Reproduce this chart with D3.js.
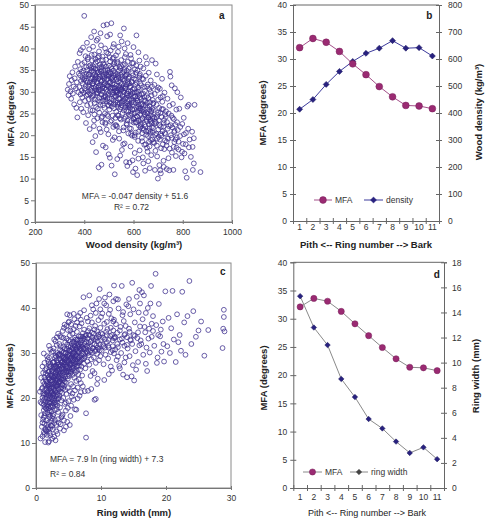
<!DOCTYPE html>
<html><head><meta charset="utf-8">
<script src="https://cdn.jsdelivr.net/npm/d3@7"></script>
<style>body{margin:0;background:#fff}svg{display:block}</style>
</head><body><svg id="c" width="485" height="525"></svg>
<script>
// ---------- DATA ----------
const ringNumbers = [1,2,3,4,5,6,7,8,9,10,11];
const mfaByRingB = [32.1,33.8,33.1,31.4,29.1,27.1,24.9,23.0,21.4,21.3,20.8];
const densityByRing = [414,450,506,554,591,621,640,668,640,642,611];
const mfaByRingD = [32.1,33.6,33.1,31.3,29.1,27.0,24.9,22.9,21.4,21.3,20.8];
const ringWidthByRing = [15.3,12.8,11.4,8.7,7.25,5.5,4.75,3.7,2.8,3.24,2.3];

const ticksMfaA = [0,5,10,15,20,25,30,35,40,45,50];
const ticksDensityA = [200,400,600,800,1000];
const ticksMfaC = [0,10,20,30,40,50];
const ticksRingWidthC = [0,10,20,30];
const ticksMfaBD = [0,5,10,15,20,25,30,35,40];
const ticksDensityB = [0,100,200,300,400,500,600,700,800];
const ticksRingWidthD = [0,2,4,6,8,10,12,14,16,18];

// panel a: [wood density, MFA]
const scatterA = [
[333,30.5],[336,29.2],[338,31.8],[341,33.6],[344,30.1],[347,28.4],[349,32.7],[352,34.5],[354,29.6],[357,31.2],[359,27.1],[361,33.1],[363,35.8],[366,30.8],[368,26.3],[370,32.2],[372,24.1],[374,36.9],[376,29.9],[378,34.2],
[380,31.1],[381,38.9],[382,27.6],[383,33.8],[384,35.2],[385,29.4],[386,39.6],[387,32.5],[388,26.1],[389,34.6],[390,30.3],[391,36.4],[392,28.7],[393,33.2],[394,31.9],[395,40.2],[396,25.3],[397,34.9],[398,29.8],[399,32.8],[400,47.5],[401,36.8],[402,30.7],[403,27.9],[404,33.5],[405,38.2],[406,31.4],[407,22.8],[408,35.7],[409,29.1],[410,34.1],[411,41.3],[412,26.9],[413,32.1],[414,37.5],[415,30.0],[416,24.6],[417,33.9],[418,28.3],[419,35.9],[420,39.8],[421,31.6],[422,21.4],[423,34.4],[424,29.5],[425,36.1],[426,27.2],[427,33.0],[428,42.6],[429,30.9],
[430,34.8],[431,28.6],[432,37.2],[433,31.8],[434,25.7],[435,33.3],[436,40.4],[437,29.2],[438,35.4],[439,22.1],[440,32.4],[441,38.6],[442,27.4],[443,34.0],[444,30.6],[445,19.8],[446,36.7],[447,31.2],[448,26.5],[449,33.7],[450,41.8],[451,29.9],[452,35.1],[453,23.9],[454,32.0],[455,37.9],[456,28.1],[457,34.5],[458,12.6],[459,30.4],[460,39.3],[461,25.2],[462,33.5],[463,36.3],[464,27.7],[465,31.5],[466,43.5],[467,20.7],[468,34.7],[469,29.3],[470,13.2],[471,35.8],[472,32.6],[473,24.3],[474,38.1],[475,30.1],[476,26.9],[477,33.9],[478,45.3],[479,28.8],[432,30.2],[436,35.9],[441,24.8],[445,33.1],[449,29.6],[453,37.0],[457,31.0],[461,35.6],[465,27.0],[469,32.3],[473,30.8],[477,36.5],[434,18.4],[448,16.1],[462,21.5],[476,17.6],[440,43.9],[455,42.2],[468,40.7],[474,23.0],
[480,31.7],[481,36.2],[482,26.3],[483,33.4],[484,29.0],[485,40.0],[486,22.6],[487,34.3],[488,30.5],[489,37.4],[490,27.8],[491,32.9],[492,45.5],[493,24.7],[494,35.0],[495,28.5],[496,31.3],[497,38.8],[498,20.2],[499,33.6],[500,29.7],[501,36.0],[502,25.9],[503,32.1],[504,14.8],[505,34.6],[506,30.0],[507,39.5],[508,27.3],[509,33.0],[510,45.8],[511,23.4],[512,35.3],[513,29.4],[514,31.9],[515,37.6],[516,18.9],[517,32.6],[518,28.0],[519,34.9],[520,41.0],[521,26.2],[522,31.0],[523,36.8],[524,11.0],[525,29.1],[526,33.8],[527,24.0],[528,35.5],[529,30.3],[482,33.0],[485,28.2],[488,35.8],[491,21.3],[494,31.6],[497,27.0],[500,34.0],[503,38.0],[506,23.1],[509,30.9],[512,26.6],[515,33.3],[518,21.9],[521,36.4],[524,30.7],[527,27.6],[530,32.8],[487,17.2],[499,15.6],[511,13.0],[523,19.5],[493,42.8],[505,43.2],[517,40.3],[529,38.4],[484,25.0],[496,24.4],[508,34.2],[520,28.8],[526,22.3],
[530,25.4],[531,31.4],[532,36.6],[533,22.0],[534,29.8],[535,34.1],[536,27.1],[537,39.2],[538,30.6],[539,24.5],[540,33.2],[541,28.4],[542,19.2],[543,35.7],[544,31.0],[545,26.0],[546,43.0],[547,29.5],[548,33.9],[549,23.6],[550,37.3],[551,27.5],[552,31.8],[553,16.6],[554,34.4],[555,29.0],[556,25.1],[557,36.2],[558,30.2],[559,21.1],[560,32.5],[561,44.6],[562,27.9],[563,35.0],[564,18.1],[565,30.8],[566,26.4],[567,33.6],[568,24.2],[569,38.7],[570,28.6],[571,31.6],[572,22.7],[573,34.8],[574,29.2],[575,12.9],[576,36.9],[577,26.8],[578,32.3],[579,20.4],[532,29.9],[535,24.6],[538,33.6],[541,20.9],[544,27.3],[547,35.4],[550,30.4],[553,26.9],[556,32.9],[559,28.3],[562,23.8],[565,36.4],[568,31.2],[571,25.6],[574,34.0],[577,29.6],[580,27.0],[534,14.5],[546,15.3],[558,17.9],[570,13.8],[540,40.4],[552,41.6],[564,40.0],[576,41.2],[537,26.5],[549,30.7],[561,34.6],[573,22.4],[579,33.1],
[580,30.1],[581,24.7],[582,33.5],[583,28.2],[584,21.6],[585,35.6],[586,26.3],[587,31.3],[588,17.4],[589,29.4],[590,37.7],[591,23.3],[592,32.4],[593,27.6],[594,19.9],[595,34.3],[596,25.8],[597,30.5],[598,11.5],[599,28.9],[600,40.3],[601,22.9],[602,33.0],[603,26.0],[604,29.9],[605,15.9],[606,35.2],[607,24.1],[608,31.6],[609,20.6],[610,27.4],[611,36.1],[612,23.0],[613,32.1],[614,28.5],[615,10.8],[616,34.9],[617,25.3],[618,30.0],[619,18.7],[620,39.1],[621,27.0],[622,22.2],[623,33.3],[624,29.3],[625,16.5],[626,25.7],[627,31.9],[628,21.8],[629,35.8],[582,26.7],[586,31.0],[590,20.3],[594,28.0],[598,33.8],[602,23.7],[606,29.0],[610,32.8],[614,24.4],[618,26.6],[622,30.4],[626,34.1],[630,23.5],[584,13.7],[596,14.2],[608,12.3],[620,14.6],[588,38.5],[600,36.6],[612,43.0],[624,37.2],[592,25.0],[604,20.0],[616,28.0],[628,26.2],
[630,28.3],[631,22.5],[632,31.5],[633,25.6],[634,19.4],[635,33.0],[636,27.2],[637,23.9],[638,14.9],[639,29.6],[640,35.4],[641,21.2],[642,26.8],[643,31.1],[644,17.8],[645,24.9],[646,30.2],[647,11.8],[648,27.9],[649,22.0],[650,33.7],[651,25.2],[652,20.1],[653,29.0],[654,36.5],[655,23.2],[656,26.4],[657,16.2],[658,31.7],[659,24.0],[660,28.6],[661,21.0],[662,34.4],[663,18.5],[664,25.9],[665,30.6],[666,12.4],[667,23.6],[668,27.6],[669,20.8],[670,32.6],[671,25.4],[672,15.4],[673,29.2],[674,22.8],[675,37.3],[676,26.1],[677,19.0],[678,28.1],[679,24.3],[635,20.5],[645,28.8],[655,17.1],[665,21.6],[675,31.2],[640,13.5],[660,14.0],[650,38.0],[670,24.6],[680,27.3],
[680,21.7],[682,25.8],[684,18.2],[686,29.5],[688,23.1],[690,36.5],[692,20.4],[694,27.0],[696,15.1],[698,24.7],[700,31.0],[702,19.6],[704,26.3],[706,22.3],[708,11.9],[710,28.7],[712,17.0],[714,24.2],[716,33.0],[718,20.9],[720,26.0],[722,14.1],[724,23.5],[726,29.8],[728,18.8],[681,27.4],[685,22.6],[689,16.4],[693,24.1],[697,30.4],[701,21.3],[705,13.1],[709,25.1],[713,19.9],[717,27.7],[721,22.0],[725,16.8],[729,24.8],[687,12.0],[699,10.0],[711,11.2],[723,12.7],[695,34.0],[707,30.7],[719,29.0],
[730,20.3],[732,25.5],[734,17.6],[736,23.0],[738,28.4],[740,19.2],[742,14.7],[744,22.1],[746,26.8],[748,34.6],[750,33.5],[752,20.0],[754,24.5],[756,16.0],[758,21.8],[760,27.2],[762,12.0],[764,23.7],[766,18.4],[768,30.8],[770,22.4],[772,15.2],[774,25.9],[776,19.5],[778,29.9],[735,12.2],[745,11.9],[755,31.5],[765,20.7],[775,17.1],
[780,21.2],[783,16.7],[786,26.1],[789,19.8],[792,28.7],[795,14.9],[798,22.6],[801,18.0],[804,24.0],[807,15.8],[810,11.7],[813,20.5],[816,10.2],[819,26.6],[822,21.5],[825,17.2],[828,19.0],[824,27.0],
[833,15.0],[838,20.8],[841,12.0],[845,19.3],[848,27.0],[872,11.5],[845,13.5],[840,17.3]
];
// panel a, dense core of the cloud: [wood density, MFA]
const scatterACore = [
[402,33.1],[405,30.2],[408,32.6],[411,35.0],[414,29.4],[417,31.3],[420,34.0],[423,32.2],[426,30.4],[429,35.6],
[431,33.0],[433,29.0],[435,31.9],[437,34.6],[439,30.9],[441,32.8],[443,28.2],[445,35.3],[447,33.4],[449,30.3],
[451,32.3],[453,34.4],[455,29.7],[457,33.0],[459,31.4],[461,28.6],[463,34.0],[465,32.7],[467,30.6],[469,35.2],
[471,29.4],[473,33.5],[475,31.2],[477,27.9],[479,34.8],[481,30.8],[483,32.0],[485,35.0],[487,28.8],[489,31.5],
[491,33.8],[493,30.0],[495,32.9],[497,29.3],[499,34.4],[501,31.2],[503,27.6],[505,32.3],[507,30.7],[509,35.7],
[511,28.4],[513,33.2],[515,31.0],[517,29.8],[519,33.7],[521,27.2],[523,31.7],[525,34.3],[527,30.1],[529,28.9],
[531,33.0],[533,30.2],[535,27.5],[537,32.4],[539,29.3],[541,34.9],[543,31.4],[545,28.6],[547,32.1],[549,26.4],
[551,30.5],[553,33.4],[555,27.8],[557,31.0],[559,29.9],[561,25.7],[563,32.9],[565,28.4],[567,30.8],[569,26.9],
[571,33.9],[573,29.6],[575,27.3],[577,31.8],[579,25.4],[581,29.0],[583,31.9],[585,27.0],[587,24.6],[589,30.1],
[591,28.3],[593,32.2],[595,26.0],[597,29.7],[599,23.8],[601,27.6],[603,30.8],[605,25.1],[607,28.9],[609,22.9],
[611,26.5],[613,29.8],[615,24.3],[617,27.9],[619,31.0],[621,23.4],[623,26.2],[625,28.7],[627,24.9],[629,22.1],
[631,27.0],[633,29.4],[635,23.7],[637,26.0],[639,21.6],[641,25.3],[643,28.0],[645,22.4],[647,24.7],[649,26.9],
[651,20.9],[653,23.6],[655,27.5],[657,25.0],[659,19.8],[661,24.1],[663,22.5],[665,26.7],[667,20.3],[669,23.2],
[671,18.9],[673,25.6],[675,21.9],[677,23.9],[679,20.6],[684,24.0],[688,20.1],[692,22.8],[696,19.2],[700,25.2],
[425,25.8],[440,23.4],[455,26.1],[470,24.0],[485,22.9],[500,26.8],[515,24.5],[530,22.3],[545,23.9],[560,21.8],[575,23.4],[590,21.5],[605,19.6],[620,20.8],[635,18.6],[650,17.9],[665,17.4],[680,18.4],[695,17.6],[710,20.3],
[415,37.9],[430,38.5],[445,37.5],[460,38.2],[475,37.3],[490,39.1],[505,37.0],[520,37.9],[535,36.9],[550,35.9],[565,38.0],[580,35.3],[595,36.6],[610,34.4],[625,33.7],[640,32.9],[655,31.2],[670,30.0],[685,31.6],[700,28.2],
[703,23.4],[707,19.0],[711,21.9],[715,26.0],[719,17.9],[723,22.8],[727,20.5],[731,24.2],[735,18.5],[739,21.5],[743,25.0],[747,16.9],[751,22.3],[755,19.4],[759,24.0],[763,17.3],[767,21.0],[771,19.0],[777,23.0],[783,18.5],[790,21.9],[797,16.2],[805,20.2],[812,17.9]
];

// panel c: [ring width, MFA]
const scatterC = [
[0.6,21.4],[0.7,11.0],[0.8,16.2],[0.8,24.5],[0.9,18.8],[0.9,13.6],[1.0,22.3],[1.0,27.0],[1.0,11.5],[1.1,19.4],[1.1,15.2],[1.1,25.6],[1.2,20.6],[1.2,17.3],[1.2,12.4],[1.2,29.9],[1.3,23.1],[1.3,18.0],[1.3,14.3],[1.3,21.7],[1.4,26.2],[1.4,19.9],[1.4,16.6],[1.4,10.2],[1.5,22.8],[1.5,12.9],[1.5,24.0],[0.7,19.1],[0.9,22.0],[1.1,23.6],[1.2,15.7],[1.3,27.8],[1.4,13.1],[1.5,17.8],[1.0,20.1],
[1.6,20.7],[1.6,15.0],[1.6,26.6],[1.7,18.4],[1.7,23.3],[1.7,11.8],[1.7,29.3],[1.8,21.5],[1.8,16.8],[1.8,25.1],[1.8,13.4],[1.9,19.6],[1.9,22.9],[1.9,28.0],[1.9,10.1],[2.0,24.2],[2.0,17.7],[2.0,20.9],[2.0,14.6],[2.0,31.6],[2.1,22.1],[2.1,26.9],[2.1,18.9],[2.1,12.2],[2.2,23.8],[2.2,20.3],[2.2,16.1],[2.2,27.6],[2.3,21.0],[2.3,25.4],[2.3,13.9],[2.3,19.1],[2.4,24.9],[2.4,17.0],[2.4,22.5],[2.4,30.2],[2.5,20.0],[2.5,15.5],[2.5,26.2],[2.5,11.0],[1.6,22.0],[1.7,20.2],[1.8,19.0],[1.9,25.8],[2.0,27.3],[2.1,15.8],[2.2,18.2],[2.3,23.0],[2.4,21.4],[2.5,23.6],[1.8,28.6],[2.0,10.4],[2.2,30.8],[2.4,14.9],[2.1,24.4],
[2.6,22.4],[2.6,27.9],[2.6,18.1],[2.6,13.0],[2.7,24.6],[2.7,20.8],[2.7,31.0],[2.7,16.4],[2.8,23.2],[2.8,26.5],[2.8,19.4],[2.8,11.4],[2.9,25.0],[2.9,21.7],[2.9,28.9],[2.9,15.1],[3.0,23.9],[3.0,27.2],[3.0,18.6],[3.0,32.6],[3.1,22.6],[3.1,25.7],[3.1,14.0],[3.1,20.4],[3.2,24.3],[3.2,28.4],[3.2,17.5],[3.2,21.2],[3.3,26.1],[3.3,22.9],[3.3,30.0],[3.3,12.0],[3.4,24.8],[3.4,19.8],[3.4,27.4],[3.4,16.9],[3.5,23.5],[3.5,29.5],[3.5,21.9],[3.5,25.9],[2.6,24.0],[2.8,21.0],[3.0,25.5],[3.2,26.8],[3.4,22.0],[2.7,28.0],[2.9,19.0],[3.1,29.2],[3.3,18.3],[3.5,14.5],[2.8,33.0],[3.0,10.6],[3.2,31.8],[3.4,34.3],[3.1,23.4],
[3.6,25.3],[3.6,28.7],[3.6,20.6],[3.6,32.0],[3.7,23.7],[3.7,27.0],[3.7,17.9],[3.7,30.7],[3.8,25.8],[3.8,22.1],[3.8,29.6],[3.8,14.2],[3.9,26.6],[3.9,24.1],[3.9,33.5],[3.9,19.5],[4.0,27.8],[4.0,23.0],[4.0,30.4],[4.0,21.1],[4.1,25.6],[4.1,28.2],[4.1,16.3],[4.1,34.9],[4.2,26.9],[4.2,24.4],[4.2,31.3],[4.2,20.0],[4.3,27.5],[4.3,22.7],[4.3,29.0],[4.3,12.8],[4.4,25.2],[4.4,30.9],[4.4,18.7],[4.4,36.3],[4.5,28.6],[4.5,24.7],[4.5,26.3],[4.5,21.8],[3.6,26.2],[3.8,27.3],[4.0,25.0],[4.2,28.9],[4.4,27.9],[3.7,33.8],[3.9,15.7],[4.1,22.9],[4.3,35.6],[4.5,32.4],
[4.6,27.0],[4.6,30.1],[4.6,23.4],[4.6,17.2],[4.7,28.4],[4.7,25.9],[4.7,33.2],[4.7,20.9],[4.8,29.2],[4.8,26.6],[4.8,31.9],[4.8,14.7],[4.9,27.7],[4.9,24.3],[4.9,35.1],[4.9,22.2],[5.0,29.9],[5.0,26.0],[5.0,32.8],[5.0,19.3],[5.1,28.0],[5.1,30.6],[5.1,24.9],[5.1,37.0],[5.2,27.3],[5.2,29.4],[5.2,21.5],[5.2,33.9],[5.3,28.8],[5.3,25.5],[5.3,31.4],[5.3,16.0],[5.4,30.3],[5.4,27.6],[5.4,23.1],[5.4,36.4],[5.5,29.0],[5.5,26.4],[5.5,32.1],[5.5,20.3],[4.8,38.6],[5.0,36.8],[5.2,38.4],[5.4,18.3],[4.6,13.6],
[5.6,28.3],[5.6,31.1],[5.6,25.1],[5.6,34.3],[5.7,29.7],[5.7,27.1],[5.7,22.6],[5.7,32.5],[5.8,30.0],[5.8,26.7],[5.8,35.3],[5.8,19.6],[5.9,28.9],[5.9,31.7],[5.9,24.5],[5.9,37.5],[6.0,29.3],[6.0,27.5],[6.0,33.4],[6.0,21.7],[6.1,30.8],[6.1,28.1],[6.1,25.7],[6.1,36.0],[6.2,29.6],[6.2,32.2],[6.2,23.8],[6.2,17.4],[6.3,31.2],[6.3,27.9],[6.3,34.7],[6.3,26.0],[6.4,30.5],[6.4,28.6],[6.4,33.0],[6.4,22.3],[6.5,29.1],[6.5,31.9],[6.5,25.3],[6.5,38.2],
[6.6,30.2],[6.6,33.7],[6.6,27.2],[6.6,24.1],[6.7,31.5],[6.7,29.0],[6.7,35.9],[6.7,20.5],[6.8,32.3],[6.8,28.3],[6.8,26.3],[6.8,38.9],[6.9,30.7],[6.9,33.1],[6.9,23.3],[7.0,31.9],[7.0,29.4],[7.0,36.6],[7.0,27.0],[7.1,32.8],[7.1,30.0],[7.1,25.0],[7.2,34.4],[7.2,31.2],[7.2,28.7],[7.3,42.4],[7.3,33.2],[7.3,29.8],[7.4,30.9],[7.4,27.6],[7.4,35.2],[7.5,32.0],[7.5,29.2],[7.5,21.5],[7.6,33.8],[7.6,31.0],[7.6,26.6],[7.7,11.2],[7.7,16.6],[7.7,32.5],[7.8,30.3],[7.8,37.8],[7.9,31.6],[7.9,28.1],[8.0,34.9],
[8.1,32.2],[8.1,29.5],[8.2,35.5],[8.2,27.4],[8.3,31.4],[8.3,33.9],[8.4,30.6],[8.4,38.3],[8.5,28.6],[8.5,32.7],[8.6,36.8],[8.6,30.1],[8.7,26.0],[8.7,33.4],[8.8,31.1],[8.8,39.7],[8.9,29.0],[8.9,34.3],[9.0,32.0],[9.0,19.6],[9.1,30.4],[9.1,36.0],[9.2,33.1],[9.2,27.8],[9.3,31.7],[9.3,41.0],[9.4,29.8],[9.4,34.8],[9.5,32.6],[9.5,24.3],[9.6,37.3],[9.6,30.9],[9.7,33.6],[9.7,28.4],[9.8,44.2],[9.8,31.9],[9.9,35.6],[9.9,29.3],[10.0,32.9],[10.0,38.0],[8.5,22.0],[9.0,25.5],[9.4,23.1],[8.2,42.8],[9.7,42.0],
[10.1,30.5],[10.2,34.2],[10.3,31.8],[10.4,27.5],[10.5,36.5],[10.6,33.0],[10.7,29.6],[10.8,40.6],[10.9,32.4],[11.0,35.3],[11.1,28.8],[11.2,31.2],[11.3,43.0],[11.4,33.8],[11.5,30.2],[11.6,37.7],[11.7,26.1],[11.8,32.8],[11.9,35.0],[12.0,29.9],[10.2,38.8],[10.5,24.0],[10.8,34.7],[11.1,31.6],[11.4,39.6],[11.7,34.0],[12.0,33.3],[10.4,31.5],[10.9,36.9],[11.5,27.0],[11.9,41.5],[10.6,42.3],[11.2,25.3],[11.8,30.6],[12.0,37.4],
[12.1,33.6],[12.2,30.8],[12.3,36.4],[12.4,28.4],[12.5,34.5],[12.6,31.3],[12.7,39.9],[12.8,27.1],[12.9,33.0],[13.0,35.8],[13.1,30.0],[13.2,44.9],[13.3,32.3],[13.4,25.2],[13.5,37.1],[13.6,31.6],[13.7,34.2],[13.8,29.0],[13.9,40.8],[14.0,33.5],[12.3,42.0],[12.9,26.6],[13.3,38.4],[13.8,36.0],[12.6,29.2],[13.6,27.9],[14.0,24.6],[12.0,45.0],
[14.1,31.0],[14.3,35.4],[14.4,29.3],[14.5,38.6],[14.6,32.8],[14.8,45.6],[14.9,27.3],[15.0,34.0],[15.1,23.9],[15.2,36.8],[15.3,30.4],[15.5,42.5],[15.6,33.3],[15.7,28.0],[15.8,39.0],[15.9,31.7],[16.0,35.9],[14.2,40.4],[14.7,24.8],[15.4,26.3],[15.9,44.0],[14.5,33.0],
[16.2,32.0],[16.4,37.5],[16.5,29.6],[16.6,42.8],[16.8,34.6],[17.0,31.2],[17.1,26.0],[17.2,40.0],[17.4,35.4],[17.5,30.1],[17.7,44.9],[17.8,33.6],[18.0,38.2],[16.9,27.6],[17.6,41.0],[16.3,43.5],
[18.2,31.6],[18.4,47.6],[18.5,36.2],[18.7,29.0],[18.9,40.9],[19.1,33.7],[19.3,30.3],[19.5,37.0],[19.7,28.1],[19.9,43.7],[19.2,35.2],[18.6,27.8],
[20.2,31.5],[20.4,37.8],[20.6,30.0],[20.8,35.5],[21.0,43.8],[21.2,33.0],[21.5,28.0],[21.7,38.6],[21.9,32.4],
[22.1,34.0],[22.3,30.5],[22.5,43.6],[22.8,36.8],[23.0,29.6],[23.3,38.2],[23.6,46.0],[23.9,32.0],
[24.2,39.3],[24.6,33.6],[25.0,35.0],[25.4,37.0],[25.9,29.4],[26.5,35.1],
[28.7,31.1],[28.8,35.4],[28.9,39.6],[28.9,38.0],[29.0,34.8]
];
// panel c, dense core of the cloud: [ring width, MFA]
const scatterCCore = [
[1.1,21.0],[1.2,18.6],[1.3,24.6],[1.3,16.0],[1.4,20.9],[1.5,19.2],[1.5,25.4],[1.6,17.6],[1.6,23.7],[1.7,21.2],[1.7,14.1],[1.8,22.7],[1.8,18.1],[1.9,24.5],[1.9,16.4],[1.9,20.6],[2.0,22.5],[2.0,19.0],[2.0,25.9],[2.1,20.0],[2.1,17.2],[2.1,23.0],[2.2,21.6],[2.2,25.0],[2.2,13.3],[2.3,17.9],[2.3,22.2],[2.3,27.0],[2.4,19.7],[2.4,23.9],[2.4,26.0],[2.5,21.3],[2.5,18.4],[2.5,24.8],[2.6,20.5],[2.6,25.8],[2.6,16.0],[2.7,22.0],[2.7,26.7],[2.7,18.8],[2.8,24.4],[2.8,20.0],[2.8,28.0],[2.9,22.8],[2.9,26.9],[2.9,17.3],[3.0,21.5],[3.0,24.7],[3.0,29.4],[3.1,23.0],[3.1,19.6],[3.1,27.0],[3.2,25.1],[3.2,22.6],[3.2,19.0],[3.3,24.0],[3.3,27.9],[3.3,20.7],[3.4,25.6],[3.4,23.2],[3.4,29.6],[3.5,24.6],[3.5,20.0],[3.5,27.3],[3.6,23.6],[3.6,29.8],[3.7,25.5],[3.7,21.4],[3.8,24.3],[3.8,28.4],[3.9,22.4],[3.9,27.9],[4.0,26.4],[4.0,29.1],[4.1,24.0],[4.1,27.2],[4.2,22.2],[4.2,30.1],[4.3,25.8],[4.3,24.0],[4.4,28.7],[4.4,23.6],[4.5,27.4],[4.5,30.0],[4.6,25.7],[4.6,28.9],[4.7,27.0],[4.7,30.9],[4.8,24.8],[4.8,28.0],[4.9,29.6],[4.9,26.0],[5.0,28.4],[5.0,31.4],[5.1,26.5],[5.1,29.3],[5.2,30.6],[5.2,25.9],[5.3,27.6],[5.3,32.6],[5.4,28.9],[5.4,25.8],[5.5,30.8],[5.5,27.5],[5.6,29.5],[5.6,26.8],[5.7,31.0],[5.7,28.4],[5.8,27.8],[5.8,32.4],[5.9,30.1],[5.9,26.2],[6.0,31.3],[6.0,28.5],[6.1,29.5],[6.1,33.0],[6.2,27.0],[6.2,30.7],[6.3,29.3],[6.3,32.9],[6.4,27.2],[6.4,31.6],[6.5,30.3],[6.5,27.8],[6.6,32.0],[6.7,28.0],[6.8,30.9],[6.9,33.7],[7.0,28.6],[7.1,31.4],[7.2,33.6],[7.3,30.9],[7.4,28.8],[7.5,33.1],[7.6,29.9],[7.7,34.0],[7.8,31.5],[7.9,33.3],[8.0,30.0],[8.1,34.1],[8.3,30.2],[8.4,32.5],[8.6,34.5],[8.7,31.0],[8.9,32.9],[9.0,35.2],[9.2,30.7],[9.3,33.5],[9.5,31.2],[9.6,34.1],[9.8,30.6],[10.0,34.4],[10.3,33.4],[10.6,31.2],[10.9,34.0],[11.2,32.9],[11.5,35.6],[11.8,31.5],[12.2,33.4],[12.5,32.0],[12.9,35.0],[13.2,33.2],[13.6,34.0],[14.0,31.8],[14.4,34.7],[14.8,32.0],[15.2,33.8],[15.7,34.6],[16.1,32.8],[16.7,35.8],[17.3,33.2],[18.0,34.9],[18.8,34.0],[19.6,32.0],
[1.0,14.5],[1.3,12.0],[1.6,12.6],[1.9,13.0],[2.2,11.7],[2.5,13.8],[2.8,14.4],[3.1,12.6],[3.4,15.3],[3.7,13.2],[4.0,16.0],[4.3,15.0],[4.6,19.0],[4.9,17.8],[5.2,14.0],[5.6,21.0],[6.0,17.5],[6.4,19.9],[6.9,21.3],[7.2,22.6],[8.0,21.6],[8.4,24.9],[9.2,19.8],
[2.0,29.0],[2.6,30.4],[3.2,33.5],[3.8,31.5],[4.2,33.4],[4.7,36.0],[5.3,35.0],[5.8,38.7],[6.3,36.8],[6.9,37.4],[7.4,39.5],[8.0,37.0],[8.6,40.6],[9.2,38.9],[9.9,39.7],[10.5,41.0],[11.2,38.7],[11.9,37.0],[12.6,41.9],[13.4,39.1],[14.3,42.0],[15.0,39.7],[16.0,41.0],[16.9,38.9],[17.8,36.5]
];

// ---------- DRAWING ----------
const FONT = '"Liberation Sans", Arial, Helvetica, sans-serif';
const svg = d3.select("#c");
const AXC = "#777";
const DOT = "#3d2e8e";
const MFA_FILL = "#9a2a72", MFA_STROKE = "#78205a";
const DEN_FILL = "#28217f";

function styleAxis(g){
  g.attr("font-family", FONT).attr("font-size", 8.5);
  g.select(".domain").attr("stroke", AXC);
  g.selectAll(".tick line").attr("stroke", AXC);
  g.selectAll(".tick text").attr("fill", "#333");
}
function txt(x, y, s, opts = {}){
  const t = svg.append("text").attr("x", x).attr("y", y).text(s)
    .attr("font-family", FONT).attr("font-size", opts.size || 9)
    .attr("font-weight", opts.bold ? "bold" : "normal")
    .attr("fill", opts.fill || "#222")
    .attr("text-anchor", opts.anchor || "middle");
  if (opts.rotate) t.attr("transform", `rotate(-90,${x},${y})`);
  return t;
}

// ---- scatter panels ----
function scatterPanel(cfg){
  const x = d3.scaleLinear().domain(cfg.xDomain).range([cfg.l, cfg.r]);
  const y = d3.scaleLinear().domain(cfg.yDomain).range([cfg.b, cfg.t]);
  const g = svg.append("g");
  g.append("rect").attr("x", cfg.l).attr("y", cfg.t).attr("width", cfg.r - cfg.l)
    .attr("height", cfg.b - cfg.t).attr("fill", "none").attr("stroke", "#8a8a8a");
  g.append("g").selectAll("circle").data(cfg.data).join("circle")
    .attr("cx", d => x(d[0])).attr("cy", d => y(d[1])).attr("r", 2.4)
    .attr("fill", "none").attr("stroke", DOT).attr("stroke-width", 0.85).attr("stroke-opacity", 0.9);
  const ya = g.append("g").attr("transform", `translate(${cfg.l},0)`)
    .call(d3.axisLeft(y).tickValues(cfg.yTicks).tickSize(4).tickPadding(2).tickFormat(d3.format("d")));
  styleAxis(ya);
  const xa = g.append("g").attr("transform", `translate(0,${cfg.b})`)
    .call(d3.axisBottom(x).tickValues(cfg.xTicks).tickSizeInner(-3).tickSizeOuter(0).tickPadding(7).tickFormat(d3.format("d")));
  styleAxis(xa);
  xa.selectAll(".tick line").attr("y1", -2).attr("y2", 2);
  return {x, y};
}

scatterPanel({l:35, r:232, t:5, b:222, xDomain:[200,1000], yDomain:[0,50],
  xTicks:ticksDensityA, yTicks:ticksMfaA, data:scatterA.concat(scatterACore)});
txt(221.7, 18.5, "a", {bold:true, size:10});
txt(13.5, 114, "MFA (degrees)", {bold:true, size:9.5, rotate:true});
txt(134, 248, "Wood density (kg/m³)", {bold:true, size:9.5});
txt(135, 198.5, "MFA = -0.047 density + 51.6", {size:8.5, fill:"#333"});
txt(131.5, 210, "R² = 0.72", {size:8.5, fill:"#333"});

scatterPanel({l:36, r:231, t:263, b:488, xDomain:[0,30], yDomain:[0,50],
  xTicks:ticksRingWidthC, yTicks:ticksMfaC, data:scatterC.concat(scatterCCore)});
txt(222.7, 275, "c", {bold:true, size:10});
txt(12.5, 376, "MFA (degrees)", {bold:true, size:9.5, rotate:true});
txt(134, 516, "Ring width (mm)", {bold:true, size:9.5});
txt(50, 462, "MFA = 7.9 ln (ring width) + 7.3", {size:8.5, anchor:"start", fill:"#333"});
txt(50, 477, "R² = 0.84", {size:8.5, anchor:"start", fill:"#333"});

// ---- ring panels ----
function ringPanel(cfg){
  const xb = d3.scaleBand().domain(ringNumbers).range([cfg.l, cfg.r]);
  const xl = d3.scaleLinear().domain([0, ringNumbers.length]).range([cfg.l, cfg.r]);
  const yl = d3.scaleLinear().domain(cfg.yLeftDomain).range([cfg.b, cfg.t]);
  const yr = d3.scaleLinear().domain(cfg.yRightDomain).range([cfg.b, cfg.t]);
  const cx = d => xb(d) + xb.bandwidth()/2;
  const g = svg.append("g");
  g.append("line").attr("x1", cfg.l).attr("x2", cfg.r).attr("y1", cfg.t).attr("y2", cfg.t).attr("stroke", "#666");
  const la = g.append("g").attr("transform", `translate(${cfg.l},0)`)
    .call(d3.axisLeft(yl).tickValues(cfg.yLeftTicks).tickSize(3).tickPadding(3).tickFormat(d3.format("d")));
  styleAxis(la); la.select(".domain").attr("stroke", "#666");
  la.selectAll(".tick line").attr("x1", -3).attr("x2", 3).attr("stroke", "#666");
  const ra = g.append("g").attr("transform", `translate(${cfg.r},0)`)
    .call(d3.axisRight(yr).tickValues(cfg.yRightTicks).tickSize(3).tickPadding(cfg.rightPad).tickFormat(d3.format("d")));
  styleAxis(ra); ra.select(".domain").attr("stroke", "#666");
  ra.selectAll(".tick line").attr("x1", -3).attr("x2", 3).attr("stroke", "#666");
  const xa = g.append("g").attr("transform", `translate(0,${cfg.b})`)
    .call(d3.axisBottom(xb).tickSize(0).tickPadding(cfg.xPad));
  styleAxis(xa); xa.select(".domain").attr("stroke", "#666");
  const xt = g.append("g").attr("transform", `translate(0,${cfg.b})`)
    .call(d3.axisBottom(xl).tickValues(d3.range(0, ringNumbers.length + 1)).tickFormat("").tickSizeOuter(0));
  styleAxis(xt); xt.select(".domain").remove();
  xt.selectAll(".tick line").attr("y1", -3).attr("y2", 3).attr("stroke", "#666");

  const s1 = ringNumbers.map((r, i) => ({r, v: cfg.left[i]}));
  const s2 = ringNumbers.map((r, i) => ({r, v: cfg.right[i]}));
  g.append("path").datum(s1).attr("fill", "none").attr("stroke", cfg.leftLine).attr("stroke-width", 1)
    .attr("d", d3.line().x(d => cx(d.r)).y(d => yl(d.v)));
  g.append("path").datum(s2).attr("fill", "none").attr("stroke", cfg.rightLine).attr("stroke-width", 1)
    .attr("d", d3.line().x(d => cx(d.r)).y(d => yr(d.v)));
  const diamond = d3.symbol(d3.symbolSquare, cfg.diaSize);
  g.append("g").selectAll("path").data(s2).join("path")
    .attr("d", diamond).attr("transform", d => `translate(${cx(d.r)},${yr(d.v)}) rotate(45)`)
    .attr("fill", DEN_FILL).attr("stroke", "#1b1760").attr("stroke-width", 0.5);
  g.append("g").selectAll("circle").data(s1).join("circle")
    .attr("cx", d => cx(d.r)).attr("cy", d => yl(d.v)).attr("r", cfg.circR)
    .attr("fill", MFA_FILL).attr("stroke", MFA_STROKE).attr("stroke-width", 0.5);

  const L = cfg.legend;
  g.append("line").attr("x1", L.x1a).attr("x2", L.x1b).attr("y1", L.y).attr("y2", L.y).attr("stroke", cfg.leftLine);
  g.append("circle").attr("cx", (L.x1a + L.x1b)/2).attr("cy", L.y).attr("r", cfg.circR)
    .attr("fill", MFA_FILL).attr("stroke", MFA_STROKE).attr("stroke-width", 0.5);
  g.append("line").attr("x1", L.x2a).attr("x2", L.x2b).attr("y1", L.y).attr("y2", L.y).attr("stroke", cfg.rightLine);
  g.append("path").attr("d", diamond).attr("transform", `translate(${(L.x2a + L.x2b)/2},${L.y}) rotate(45)`)
    .attr("fill", L.diaFill).attr("stroke", L.diaFill).attr("stroke-width", 0.5);
  txt(L.x1b + 3, L.y + 3, L.t1, {size:8.5, anchor:"start", fill:"#333"});
  txt(L.x2b + 3, L.y + 3, L.t2, {size:8.5, anchor:"start", fill:"#333"});
}

ringPanel({l:293, r:439, t:5, b:221, yLeftDomain:[0,40], yRightDomain:[0,800],
  yLeftTicks:ticksMfaBD, yRightTicks:ticksDensityB, left:mfaByRingB, right:densityByRing,
  leftLine:"#a4508a", rightLine:"#3c3a9c", circR:3.4, diaSize:18, rightPad:6, xPad:3,
  legend:{y:200, x1a:314, x1b:332, x2a:364, x2b:383, t1:"MFA", t2:"density", diaFill:DEN_FILL}});
txt(429.3, 18.5, "b", {bold:true, size:10});
txt(266, 113, "MFA (degrees)", {bold:true, size:9.5, rotate:true});
txt(482, 112, "Wood density (kg/m³)", {bold:true, size:9.5, rotate:true});
txt(366, 248, "Pith <-- Ring number --> Bark", {bold:true, size:9.5});

ringPanel({l:293.3, r:444, t:262.3, b:488, yLeftDomain:[0,40], yRightDomain:[0,18],
  yLeftTicks:ticksMfaBD, yRightTicks:ticksRingWidthD, left:mfaByRingD, right:ringWidthByRing,
  leftLine:"#8a8a8a", rightLine:"#8a8a8a", circR:3.1, diaSize:15, rightPad:5, xPad:6,
  legend:{y:472, x1a:303, x1b:322, x2a:350, x2b:368, t1:"MFA", t2:"ring width", diaFill:"#444"}});
txt(436.7, 277.5, "d", {bold:true, size:10});
txt(267, 378, "MFA (degrees)", {bold:true, size:9.5, rotate:true});
txt(479, 376, "Ring width (mm)", {bold:true, size:9.5, rotate:true});
txt(367, 516, "Pith <-- Ring number --> Bark", {size:9});
</script></body></html>
